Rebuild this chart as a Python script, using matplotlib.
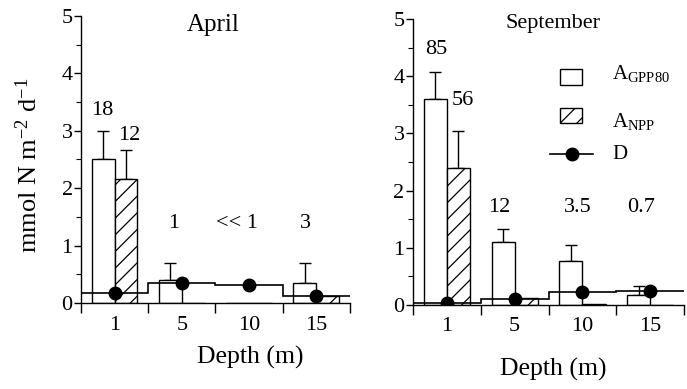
import numpy as np
import matplotlib
matplotlib.use("Agg")
import matplotlib.pyplot as plt
from matplotlib.patches import Rectangle
from matplotlib.lines import Line2D

plt.rcParams['font.family'] = ['Liberation Serif', 'DejaVu Serif']
plt.rcParams['mathtext.fontset'] = 'custom'
plt.rcParams['mathtext.rm'] = 'Liberation Serif'
plt.rcParams['mathtext.it'] = 'Liberation Serif:italic'
plt.rcParams['hatch.linewidth'] = 0.9

depths = ['1', '5', '10', '15']

# April
apr_gpp = [2.5, 0.4, 0.0, 0.35]
apr_gpp_err = [0.5, 0.3, 0.0, 0.35]
apr_npp = [2.16, 0.0, 0.0, 0.13]
apr_npp_err = [0.51, 0.0, 0.0, 0.0]
apr_d = [0.17, 0.35, 0.32, 0.12]
apr_labels = ['18', '12', '1', '<< 1', '3']

# September
sep_gpp = [3.6, 1.1, 0.77, 0.17]
sep_gpp_err = [0.48, 0.23, 0.28, 0.16]
sep_npp = [2.4, 0.12, 0.02, 0.0]
sep_npp_err = [0.65, 0.0, 0.0, 0.0]
sep_d = [0.03, 0.1, 0.22, 0.25]
sep_labels = ['85', '56', '12', '3.5', '0.7']

fig = plt.figure(figsize=(6.87, 3.89), dpi=100)
ax1 = fig.add_axes([0.118, 0.221, 0.391, 0.738])
ax2 = fig.add_axes([0.601, 0.216, 0.395, 0.735])

w = 0.34


def panel(ax, gpp, gpp_err, npp, npp_err, d, labels, label_pos, title, title_pos, title_size):
    x = np.arange(len(depths))
    ax.bar(x - w / 2, gpp, w, color='white', edgecolor='black', linewidth=1.0, zorder=2)
    ax.bar(x + w / 2, npp, w, color='white', edgecolor='black', linewidth=1.0,
           hatch='//', zorder=2)
    ge = np.array(gpp_err)
    m = ge > 0
    ax.errorbar((x - w / 2)[m], np.array(gpp)[m], yerr=[np.zeros(m.sum()), ge[m]],
                fmt='none', ecolor='black', elinewidth=1.0, capsize=4.5, capthick=1.0, zorder=1)
    ne = np.array(npp_err)
    m = ne > 0
    ax.errorbar((x + w / 2)[m], np.array(npp)[m], yerr=[np.zeros(m.sum()), ne[m]],
                fmt='none', ecolor='black', elinewidth=1.0, capsize=4.5, capthick=1.0, zorder=1)
    ax.stairs(d, np.arange(len(d) + 1) - 0.5, baseline=None, color='black',
              linewidth=1.2, zorder=3)
    ax.plot(x, d, 'o', color='black', markersize=9, zorder=4)

    for s, (px, py) in zip(labels, label_pos):
        ax.text(px, py, s, ha='center', va='center', fontsize=16)
    ax.text(title_pos[0], title_pos[1], title, ha='center', va='center', fontsize=title_size)

    ax.set_xlim(-0.5, 3.5)
    ax.set_ylim(0, 5)
    ax.spines['top'].set_visible(False)
    ax.spines['right'].set_visible(False)
    ax.spines['left'].set_linewidth(1.0)
    ax.spines['bottom'].set_linewidth(1.0)
    ax.set_xticks(np.arange(-0.5, 4, 1.0))
    ax.set_xticklabels([])
    ax.set_xticks(x, minor=True)
    ax.set_xticklabels(depths, minor=True)
    ax.tick_params(axis='x', which='major', direction='out', length=7, width=1.0)
    ax.tick_params(axis='x', which='minor', length=0, labelsize=16, pad=9)
    ax.set_yticks(np.arange(0, 6, 1))
    ax.set_yticks(np.arange(0.5, 5, 1.0), minor=True)
    ax.tick_params(axis='y', which='major', direction='out', length=5, width=1.0,
                   labelsize=16, pad=1)
    ax.tick_params(axis='y', which='minor', direction='out', length=3.5, width=0.8)


panel(ax1, apr_gpp, apr_gpp_err, apr_npp, apr_npp_err, apr_d, apr_labels,
      [(-0.18, 3.36), (0.22, 2.91), (0.88, 1.38), (1.82, 1.38), (2.84, 1.38)],
      'April', (1.46, 4.84), 18)
panel(ax2, sep_gpp, sep_gpp_err, sep_npp, sep_npp_err, sep_d, sep_labels,
      [(-0.16, 4.46), (0.24, 3.57), (0.78, 1.71), (1.93, 1.71), (2.87, 1.71)],
      'September', (1.56, 4.93), 16)

# legend drawn by hand in the right panel
tr = ax2.transAxes
ax2.add_patch(Rectangle((0.542, 0.769), 0.08, 0.056, transform=tr, facecolor='white',
                        edgecolor='black', linewidth=1.0, clip_on=False))
ax2.add_patch(Rectangle((0.542, 0.636), 0.08, 0.053, transform=tr, facecolor='white',
                        edgecolor='black', linewidth=1.0, hatch='//', clip_on=False))
ax2.add_line(Line2D([0.506, 0.664], [0.528, 0.528], transform=tr, color='black', linewidth=1.2))
ax2.add_line(Line2D([0.585], [0.528], transform=tr, marker='o', color='black', markersize=9))
ax2.text(0.735, 0.790, r'A$_{\mathrm{GPP80}}$', transform=tr, fontsize=15, va='baseline')
ax2.text(0.735, 0.622, r'A$_{\mathrm{NPP}}$', transform=tr, fontsize=15, va='baseline')
ax2.text(0.735, 0.510, 'D', transform=tr, fontsize=15, va='baseline')

fig.text(0.041, 0.576, r'mmol N m$^{-2}$ d$^{-1}$', rotation=90, ha='center', va='center',
         fontsize=19)
fig.text(0.364, 0.080, 'Depth (m)', ha='center', va='center', fontsize=18.5)
fig.text(0.805, 0.051, 'Depth (m)', ha='center', va='center', fontsize=18.5)

fig.savefig('out.png', dpi=100)
